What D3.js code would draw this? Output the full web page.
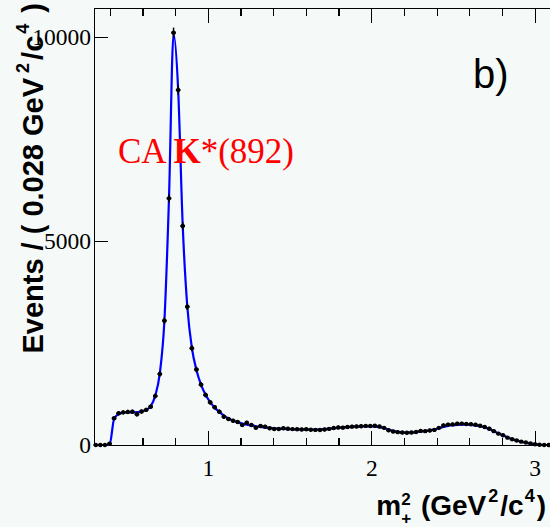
<!DOCTYPE html>
<html>
<head>
<meta charset="utf-8">
<script src="https://cdn.jsdelivr.net/npm/d3@7"></script>
<style>
  html, body { margin: 0; padding: 0; background: #f5faf8; }
  svg { display: block; }
</style>
</head>
<body>
<svg id="chart" width="550" height="527"></svg>
<script>
// Histogram binning: 100 bins of 0.028 GeV^2/c^4 starting at 0.3
const binLow = 0.3;
const binWidth = 0.028;

// Events per bin (data points)
const eventCounts = [
  0, 0, 0, 30, 654, 777, 800, 810, 816, 752,
  820, 860, 939, 1200, 1740, 3047, 6046, 10106, 8701, 5368,
  3390, 2370, 1850, 1480, 1225, 1046, 924, 816, 694, 637,
  596, 564, 490, 547, 490, 424, 466, 449, 409, 392,
  392, 409, 400, 390, 385, 380, 385, 375, 370, 368,
  380, 395, 415, 430, 425, 440, 450, 455, 460, 468,
  465, 470, 452, 420, 360, 330, 315, 305, 300, 305,
  320, 345, 340, 355, 370, 420, 480, 500, 505, 520,
  525, 515, 510, 495, 470, 440, 400, 340, 280, 240,
  180, 140, 110, 82, 60, 40, 20, 5, 0, 0
];

// Fitted model evaluated at the bin centres
const fitValues = [
  0, 0, 0, 0, 640, 760, 790, 800, 800, 805,
  820, 860, 950, 1210, 1760, 3050, 6050, 10080, 8720, 5380,
  3400, 2380, 1840, 1480, 1230, 1050, 915, 810, 720, 650,
  600, 560, 525, 500, 480, 460, 445, 430, 420, 410,
  400, 395, 390, 385, 382, 380, 378, 377, 378, 382,
  390, 400, 410, 420, 430, 438, 445, 450, 455, 458,
  458, 452, 440, 415, 380, 345, 320, 310, 305, 308,
  315, 330, 345, 360, 380, 410, 445, 470, 485, 495,
  500, 500, 495, 480, 460, 430, 390, 340, 285, 235,
  185, 145, 110, 80, 55, 35, 18, 6, 0, 0
];

const binCenters = eventCounts.map((_, i) => binLow + binWidth * (i + 0.5));

// Axis ticks and labels
const xMajorTicks = [1, 2, 3];
const xTickLabels = ["1", "2", "3"];
const xMinorTicks = [0.4, 0.6, 0.8, 1.2, 1.4, 1.6, 1.8, 2.2, 2.4, 2.6, 2.8];
const yTicks = [0, 5000, 10000];
const yTickLabels = ["0", "5000", "10000"];

const svg = d3.select("#chart");

const x = d3.scaleLinear().domain([0.3, 3.1]).range([93.5, 551]);
const y = d3.scaleLinear().domain([0, 10711]).range([445, 8]);

const sansFont = "'Liberation Sans', Arial, Helvetica, sans-serif";
const serifFont = "'Liberation Serif', 'Times New Roman', serif";

// Frame
svg.append("rect")
  .attr("x", 94).attr("y", 8.5)
  .attr("width", 457).attr("height", 436.5)
  .attr("fill", "none").attr("stroke", "#000").attr("stroke-width", 1)
  .attr("shape-rendering", "crispEdges");

function styleAxis(g) {
  g.select(".domain").remove();
  g.selectAll("line").attr("stroke", "#000").attr("stroke-width", 1.2)
    .attr("shape-rendering", "crispEdges");
  g.selectAll("text").attr("fill", "#000").attr("font-family", serifFont).attr("font-size", 23.5);
}

// Bottom axis: major ticks with labels, minor ticks pointing inward
svg.append("g").attr("transform", "translate(0,445)")
  .call(d3.axisBottom(x).tickValues(xMajorTicks).tickSize(-14).tickPadding(14)
    .tickFormat((d, i) => xTickLabels[i]))
  .call(styleAxis);
svg.append("g").attr("transform", "translate(0,445)")
  .call(d3.axisBottom(x).tickValues(xMinorTicks).tickSize(-7).tickFormat(""))
  .call(styleAxis);

// Top axis
svg.append("g").attr("transform", "translate(0,8.5)")
  .call(d3.axisTop(x).tickValues(xMajorTicks).tickSize(-14).tickFormat(""))
  .call(styleAxis);
svg.append("g").attr("transform", "translate(0,8.5)")
  .call(d3.axisTop(x).tickValues(xMinorTicks).tickSize(-7).tickFormat(""))
  .call(styleAxis);

// Left axis
svg.append("g").attr("transform", "translate(94,0)")
  .call(d3.axisLeft(y).tickValues(yTicks).tickSize(-14).tickPadding(3)
    .tickFormat((d, i) => yTickLabels[i]))
  .call(styleAxis);

// Fit curve
const fitLine = d3.line()
  .x((d, i) => x(binCenters[i]))
  .y(d => y(d))
  .curve(d3.curveMonotoneX);
svg.append("path")
  .datum(fitValues)
  .attr("d", fitLine)
  .attr("fill", "none")
  .attr("stroke", "#0000ff")
  .attr("stroke-width", 2.2);

// Data points with error bars
const pts = svg.append("g").attr("class", "data");
binCenters.forEach((c, i) => {
  const n = eventCounts[i];
  const err = Math.sqrt(n);
  pts.append("line")
    .attr("x1", x(c - binWidth / 2)).attr("x2", x(c + binWidth / 2))
    .attr("y1", y(n)).attr("y2", y(n))
    .attr("stroke", "#000").attr("stroke-width", 2);
  pts.append("line")
    .attr("x1", x(c)).attr("x2", x(c))
    .attr("y1", y(n + err) - 1).attr("y2", y(Math.max(0, n - err)) + 1)
    .attr("stroke", "#000").attr("stroke-width", 1.5);
  pts.append("circle")
    .attr("cx", x(c)).attr("cy", y(n)).attr("r", 2.2)
    .attr("fill", "#000");
});

// Resonance annotation
const ann = svg.append("text")
  .attr("x", 118).attr("y", 163)
  .attr("font-family", serifFont).attr("font-size", 35)
  .attr("fill", "#ff0000");
ann.append("tspan").text("CA ");
ann.append("tspan").attr("font-weight", "bold").text("K");
ann.append("tspan").text("*(892)");

// Panel label
svg.append("text")
  .attr("x", 473).attr("y", 88)
  .attr("font-family", sansFont).attr("font-size", 40)
  .attr("fill", "#000")
  .text("b)");

// Y axis title
const yTitle = svg.append("text")
  .attr("transform", "translate(43,3) rotate(-90)")
  .attr("text-anchor", "end")
  .attr("font-family", sansFont).attr("font-size", 29).attr("font-weight", "bold")
  .attr("fill", "#000");
yTitle.append("tspan").text("Events / ( 0.028 GeV");
yTitle.append("tspan").attr("font-size", 18).attr("dy", -14).attr("dx", 5).text("2");
yTitle.append("tspan").attr("dy", 14).attr("dx", 3).text("/c");
yTitle.append("tspan").attr("font-size", 18).attr("dy", -14).attr("dx", 2).text("4");
yTitle.append("tspan").attr("dy", 14).attr("dx", 3).text(" )");

// X axis title
const xTitle = svg.append("text")
  .attr("x", 546).attr("y", 515)
  .attr("text-anchor", "end")
  .attr("font-family", sansFont).attr("font-size", 28).attr("font-weight", "bold")
  .attr("fill", "#000");
xTitle.append("tspan").text("m");
xTitle.append("tspan").attr("font-size", 17).attr("dy", -10).text("2");
xTitle.append("tspan").attr("font-size", 17).attr("dx", -9.5).attr("dy", 19).text("+");
xTitle.append("tspan").attr("dy", -9).attr("dx", 2).text(" (GeV");
xTitle.append("tspan").attr("font-size", 18).attr("dy", -13).attr("dx", 2).text("2");
xTitle.append("tspan").attr("dy", 13).attr("dx", 2).text("/c");
xTitle.append("tspan").attr("font-size", 18).attr("dy", -13).attr("dx", 1).text("4");
xTitle.append("tspan").attr("dy", 13).attr("dx", 2).text(")");
</script>
</body>
</html>
